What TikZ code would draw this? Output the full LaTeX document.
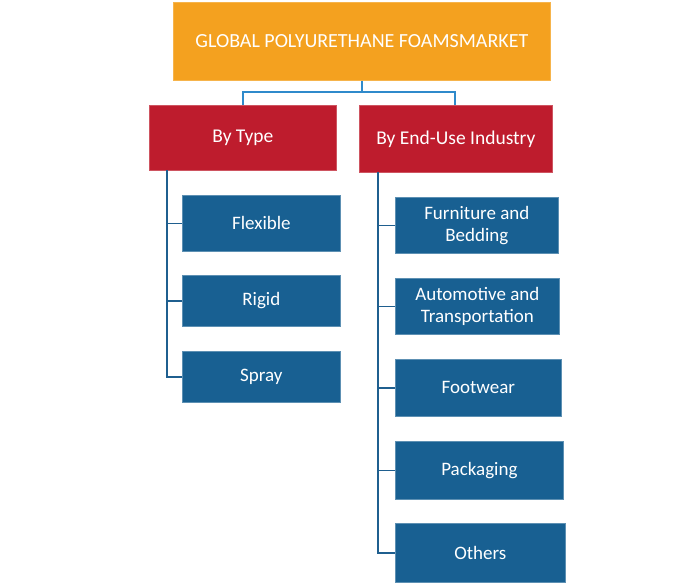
\documentclass[tikz,border=0pt]{standalone}
\usepackage{fontspec}
\setmainfont{Carlito}
\definecolor{orangebox}{HTML}{F4A11F}
\definecolor{redbox}{HTML}{BE1C2D}
\definecolor{bluebox}{HTML}{186092}
\definecolor{topline}{HTML}{2F8ACB}
\definecolor{subline}{HTML}{1F5F8F}
\tikzset{
  boxbase/.style={anchor=north west, inner sep=0pt, align=center, text=white, line width=0.7pt},
  titlebox/.style={boxbase, fill=orangebox, draw=orangebox!80!white, font=\fontsize{20}{24}\selectfont},
  catbox/.style={boxbase, fill=redbox, draw=redbox!75!white, font=\fontsize{19.5}{23}\selectfont},
  itembox/.style={boxbase, fill=bluebox, draw=bluebox!70!white, font=\fontsize{19}{22}\selectfont},
  topconn/.style={draw=topline, line width=1.6pt},
  subconn/.style={draw=subline, line width=1.6pt}
}
\begin{document}
\begin{tikzpicture}[x=1pt,y=-1pt]
\useasboundingbox (0,0) rectangle (700,584);
% top
\node[titlebox, minimum width=377pt, minimum height=78pt] (title) at (173,2) {GLOBAL POLYURETHANE FOAMSMARKET};
\node[catbox, minimum width=187pt, minimum height=65pt] (type) at (149,105) {By Type};
\node[catbox, minimum width=193pt, minimum height=67pt] (enduse) at (359,105) {By End-Use Industry};
% left items
\node[itembox, minimum width=158pt, minimum height=56pt] (flex) at (182,195) {Flexible};
\node[itembox, minimum width=158pt, minimum height=51pt] (rigid) at (182,275) {Rigid};
\node[itembox, minimum width=158pt, minimum height=51pt] (spray) at (182,351) {Spray};
% right items
\node[itembox, minimum width=163pt, minimum height=56pt] (furn) at (395,197) {Furniture and\\Bedding};
\node[itembox, minimum width=164pt, minimum height=56pt] (auto) at (395,278) {Automotive and\\Transportation};
\node[itembox, minimum width=166pt, minimum height=57pt] (foot) at (395,359) {Footwear};
\node[itembox, minimum width=168pt, minimum height=58pt] (pack) at (395,441) {Packaging};
\node[itembox, minimum width=170pt, minimum height=59pt] (oth) at (395,523) {Others};
% top connectors
\coordinate (tj) at (362,92);
\draw[topconn] (title.south -| tj) -- (tj);
\draw[topconn] (type.north -| 243,0) |- (tj) -| (enduse.north -| 455,0);
% left connectors
\coordinate (lt) at (167,170);
\draw[subconn] (lt) |- (spray.west);
\draw[subconn] (flex.west) -- (flex.west -| lt);
\draw[subconn] (rigid.west) -- (rigid.west -| lt);
% right connectors
\coordinate (rt) at (378,172);
\draw[subconn] (rt) |- (oth.west);
\draw[subconn] (furn.west) -- (furn.west -| rt);
\draw[subconn] (auto.west) -- (auto.west -| rt);
\draw[subconn] (foot.west) -- (foot.west -| rt);
\draw[subconn] (pack.west) -- (pack.west -| rt);
\end{tikzpicture}
\end{document}
